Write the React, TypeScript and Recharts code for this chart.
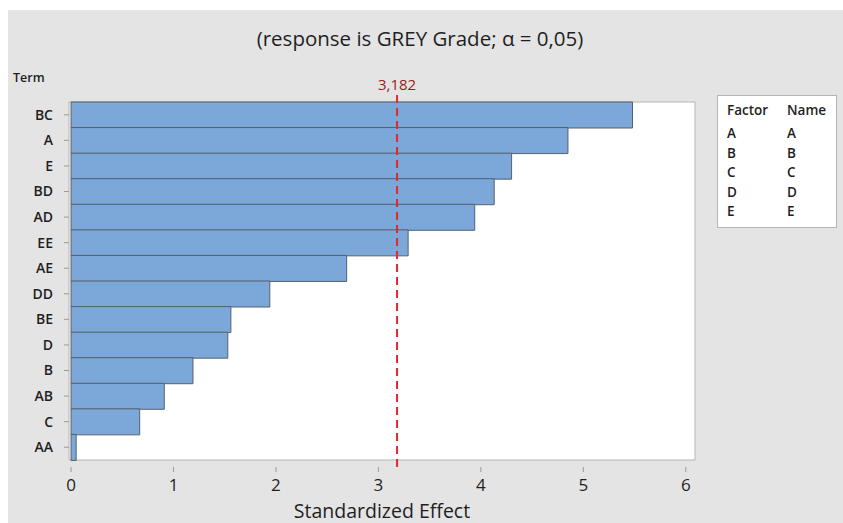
import {
  Bar,
  BarChart,
  ReferenceArea,
  ReferenceLine,
  XAxis,
  YAxis,
} from "recharts";

// Pareto terms, ordered largest effect first
const terms = ["BC", "A", "E", "BD", "AD", "EE", "AE", "DD", "BE", "D", "B", "AB", "C", "AA"];
const effects = [5.48, 4.85, 4.3, 4.13, 3.94, 3.29, 2.69, 1.94, 1.56, 1.53, 1.19, 0.91, 0.67, 0.05];
const xTicks = [0, 1, 2, 3, 4, 5, 6];
const criticalValue = 3.182;
const factors = ["A", "B", "C", "D", "E"];
const factorNames = ["A", "B", "C", "D", "E"];

const data = terms.map((term, i) => ({ term, effect: effects[i] }));

const FONT = "'Open Sans', sans-serif";
const X_MIN = -0.02;
const X_MAX = 6.09;

const ParetoChart = () => {
  return (
    <div
      style={{
        position: "fixed",
        left: 8,
        top: 10,
        width: 835,
        height: 513,
        background: "#e4e4e4",
        fontFamily: FONT,
        color: "#1f1f1f",
      }}
    >
      <div
        style={{
          position: "absolute",
          left: 0,
          width: 824,
          top: 13,
          textAlign: "center",
          fontSize: 20.5,
          lineHeight: "30px",
        }}
      >
        (response is GREY Grade; α = 0,05)
      </div>
      <div
        style={{
          position: "absolute",
          left: 5,
          top: 59,
          fontSize: 12.5,
          fontWeight: 600,
          lineHeight: "18px",
        }}
      >
        Term
      </div>

      <BarChart
        width={835}
        height={513}
        data={data}
        layout="vertical"
        barCategoryGap={0}
        margin={{ top: 85, right: 148, left: 0, bottom: 0 }}
      >
        <XAxis
          type="number"
          domain={[X_MIN, X_MAX]}
          allowDataOverflow
          ticks={xTicks}
          height={56}
          axisLine={false}
          tickSize={5}
          tickMargin={7}
          tickLine={{ stroke: "#9a9a9a" }}
          tick={{ fill: "#1f1f1f", fontSize: 17, fontFamily: FONT }}
          label={{
            value: "Standardized Effect",
            position: "insideBottom",
            offset: 5,
            fill: "#1f1f1f",
            fontSize: 19.5,
            fontFamily: FONT,
          }}
        />
        <YAxis
          type="category"
          dataKey="term"
          width={61}
          axisLine={false}
          tickSize={5}
          tickMargin={11}
          padding={{ top: 7, bottom: 7 }}
          tickLine={{ stroke: "#9a9a9a" }}
          tick={{ fill: "#1f1f1f", fontSize: 14, fontWeight: 600, fontFamily: FONT }}
        />
        <ReferenceArea
          x1={X_MIN}
          x2={X_MAX}
          fill="#ffffff"
          fillOpacity={1}
          stroke="#b4b4b4"
          strokeWidth={1}
        />
        <Bar
          dataKey="effect"
          fill="#7ba7d9"
          stroke="#56606c"
          strokeWidth={1}
          isAnimationActive={false}
        />
        <ReferenceLine
          x={criticalValue}
          stroke="#e0282e"
          strokeWidth={2}
          strokeDasharray="8 5"
          label={{
            value: "3,182",
            position: "top",
            offset: 5,
            fill: "#9b1a1a",
            fontSize: 15,
            fontFamily: FONT,
          }}
        />
      </BarChart>

      <div
        style={{
          position: "absolute",
          left: 709,
          top: 85,
          width: 118,
          height: 131,
          background: "#ffffff",
          border: "1px solid #b4b4b4",
          fontSize: 13.5,
          fontWeight: 600,
        }}
      >
        <div style={{ position: "absolute", left: 9, top: 5 }}>Factor</div>
        <div style={{ position: "absolute", left: 69, top: 5 }}>Name</div>
        {factors.map((f, i) => (
          <div key={f}>
            <div style={{ position: "absolute", left: 9, top: 28 + i * 19.5 }}>{f}</div>
            <div style={{ position: "absolute", left: 69, top: 28 + i * 19.5 }}>
              {factorNames[i]}
            </div>
          </div>
        ))}
      </div>
    </div>
  );
};

export default ParetoChart;
